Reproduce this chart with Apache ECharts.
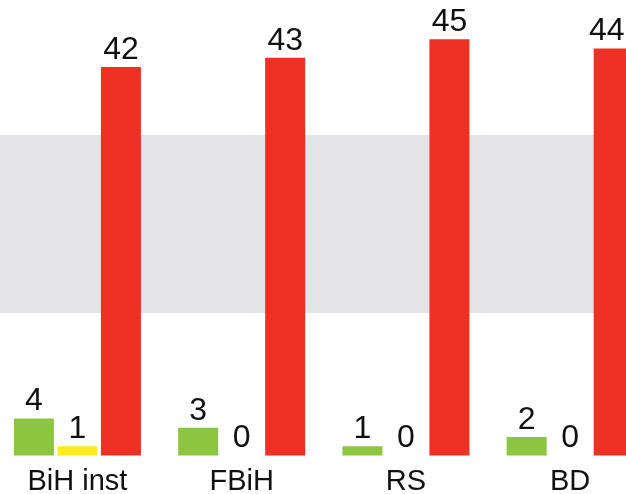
<!DOCTYPE html>
<html><head><meta charset="utf-8">
<script src="https://cdn.jsdelivr.net/npm/echarts@6/dist/echarts.min.js"></script>
<style>html,body{margin:0;padding:0;background:#fff;overflow:hidden;}#c{width:626px;height:494px;}</style>
</head><body><div id="c"></div>
<script>
var categories = ['BiH inst', 'FBiH', 'RS', 'BD'];
var greenValues = [4, 3, 1, 2];
var yellowValues = [1, 0, 0, 0];
var redValues = [42, 43, 45, 44];
var bandRange = [15.4, 34.65];

var FONT = '"Liberation Sans", Arial, sans-serif';
var labelCfg = {show: true, position: 'top', distance: 1, fontFamily: FONT, fontSize: 32, color: '#111'};

var redData = redValues.map(function (v, i) {
  return i === redValues.length - 1 ? {value: v, label: {offset: [-7, 0]}} : v;
});

var chart = echarts.init(document.getElementById('c'), null, {renderer: 'canvas'});
chart.setOption({
  animation: false,
  grid: {left: -4.7, width: 657, top: 11.5, bottom: 38.5, containLabel: false, outerBoundsMode: 'none'},
  xAxis: {
    type: 'category', data: categories,
    axisLine: {show: false}, axisTick: {show: false},
    axisLabel: {fontFamily: FONT, fontSize: 29, color: '#111', margin: 12}
  },
  yAxis: {type: 'value', min: 0, max: 48, show: false, splitLine: {show: false}},
  series: [
    {type: 'bar', data: greenValues, barWidth: 40, barGap: '8.75%', barCategoryGap: '22.7%',
     itemStyle: {color: '#8cc540'}, label: labelCfg,
     markArea: {silent: true, itemStyle: {color: '#e4e4e6'},
       data: [[{yAxis: bandRange[0]}, {yAxis: bandRange[1]}]]}},
    {type: 'bar', data: yellowValues, barWidth: 40, itemStyle: {color: '#ffec1f'}, label: labelCfg},
    {type: 'bar', data: redData, barWidth: 40, itemStyle: {color: '#ee3124'}, label: labelCfg, z: 3}
  ]
});
</script></body></html>
